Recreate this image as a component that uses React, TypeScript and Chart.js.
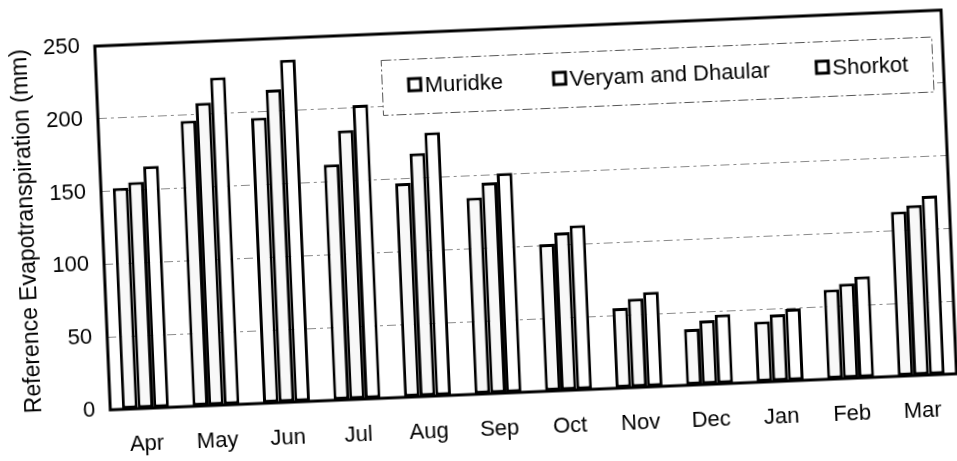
import React, { useEffect, useRef } from "react";
import { Chart, registerables } from "chart.js";

Chart.register(...registerables);

const months = ["Apr", "May", "Jun", "Jul", "Aug", "Sep", "Oct", "Nov", "Dec", "Jan", "Feb", "Mar"];
const muridke = [152, 196, 196, 162, 147, 135, 101, 55, 38.5, 41.5, 61.5, 113];
const veryam = [155.5, 208, 215, 185, 167, 145, 108.5, 61, 44, 46, 65, 117];
const shorkot = [166, 225, 235, 202, 181, 151, 113, 65, 47.5, 49.5, 69.5, 123];
const seriesNames = ["Muridke", "Veryam and Dhaular", "Shorkot"];
const yMin = 0;
const yMax = 250;
const yStep = 50;
const yTitle = "Reference Evapotranspiration (mm)";

const FONT = "'Liberation Sans', Arial, sans-serif";

const frameAndLegend = {
  id: "frameAndLegend",
  afterDatasetsDraw(chart: any) {
    const { ctx, chartArea } = chart;
    ctx.save();
    // legend box
    const x0 = chartArea.left + 285;
    const y0 = chartArea.top + 26;
    const w = 551;
    const h = 55;
    ctx.fillStyle = "#ffffff";
    ctx.fillRect(x0, y0, w, h);
    ctx.strokeStyle = "#555";
    ctx.lineWidth = 1;
    ctx.setLineDash([10, 3, 2, 3]);
    ctx.strokeRect(x0 + 0.5, y0 + 0.5, w, h);
    ctx.setLineDash([]);
    const markerX = [chartArea.left + 318, chartArea.left + 463, chartArea.left + 726];
    const my = chartArea.top + 52;
    ctx.font = `22px ${FONT}`;
    ctx.textBaseline = "middle";
    ctx.textAlign = "left";
    seriesNames.forEach((name, i) => {
      ctx.fillStyle = "#fff";
      ctx.fillRect(markerX[i] - 6, my - 6, 12, 12);
      ctx.strokeStyle = "#000";
      ctx.lineWidth = 3;
      ctx.strokeRect(markerX[i] - 6, my - 6, 12, 12);
      ctx.fillStyle = "#000";
      ctx.fillText(name, markerX[i] + 10, my + 2);
    });
    // plot frame
    ctx.strokeStyle = "#000";
    ctx.lineWidth = 3;
    ctx.strokeRect(chartArea.left, chartArea.top, chartArea.right - chartArea.left, chartArea.bottom - chartArea.top);
    ctx.restore();
  },
};

export default function App() {
  const ref = useRef<HTMLCanvasElement | null>(null);
  useEffect(() => {
    if (!ref.current) return;
    const chart = new Chart(ref.current, {
      type: "bar",
      data: {
        labels: months,
        datasets: [
          { label: seriesNames[0], data: muridke, backgroundColor: "#f8f8f8", borderColor: "#000", borderWidth: 3, borderSkipped: false },
          { label: seriesNames[1], data: veryam, backgroundColor: "#f8f8f8", borderColor: "#000", borderWidth: 3, borderSkipped: false },
          { label: seriesNames[2], data: shorkot, backgroundColor: "#ffffff", borderColor: "#000", borderWidth: 3, borderSkipped: false },
        ],
      },
      options: {
        responsive: false,
        animation: false,
        devicePixelRatio: 1,
        layout: { padding: { top: 30, right: 7, left: 0, bottom: 0 } },
        datasets: { bar: { categoryPercentage: 0.665, barPercentage: 1.0 } },
        plugins: { legend: { display: false }, tooltip: { enabled: false } },
        scales: {
          x: {
            grid: { display: false, drawTicks: false },
            border: { display: false },
            ticks: { color: "#000", font: { family: FONT, size: 22 }, padding: 23, maxRotation: 0, autoSkip: false },
            afterFit: (s: any) => { s.height = 67; },
          },
          y: {
            min: yMin,
            max: yMax,
            grid: { color: "#8a8a8a", lineWidth: 1, drawTicks: false },
            border: { display: false, dash: [9, 4, 3, 4] },
            ticks: { stepSize: yStep, color: "#000", font: { family: FONT, size: 22 }, padding: 15 },
            title: { display: true, text: yTitle, color: "#000", font: { family: FONT, size: 23 }, padding: { top: 14, bottom: 0 } },
            afterFit: (s: any) => { s.width = 103; },
          },
        },
      },
      plugins: [frameAndLegend],
    } as any);
    return () => chart.destroy();
  }, []);
  return (
    <div
      style={{
        position: "absolute",
        left: 0,
        top: 0,
        width: 957,
        height: 461,
        transform: "rotate(-2.44deg)",
        transformOrigin: "478.5px 230.5px",
      }}
    >
      <canvas ref={ref} width={957} height={461} style={{ display: "block" }} />
    </div>
  );
}
